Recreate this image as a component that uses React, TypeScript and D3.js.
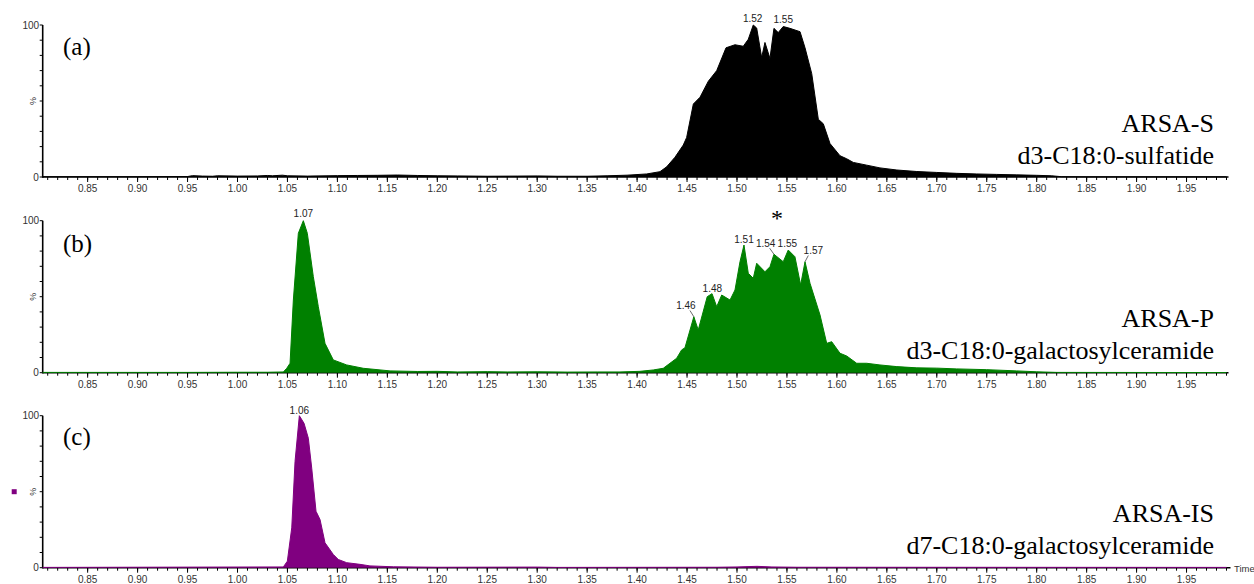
import React from "react";
import * as d3 from "d3";

// ---------- data (retention time in min, relative intensity %) ----------
const SERIES_A: [number, number][] = [
  [0.805, 0.2], [0.9, 0.2], [0.95, 0.3], [0.955, 0.9], [0.965, 0.6], [0.975, 0.5], [0.98, 0.8],
  [1.0, 0.6], [1.02, 0.7], [1.03, 1.0], [1.035, 0.8], [1.045, 1.2], [1.05, 0.8], [1.07, 0.6],
  [1.1, 0.9], [1.12, 1.0], [1.14, 1.1], [1.16, 1.3], [1.18, 1.0], [1.2, 0.8], [1.22, 0.7],
  [1.25, 0.5], [1.28, 0.6], [1.3, 0.7], [1.32, 0.5], [1.35, 0.5], [1.37, 0.8], [1.39, 1.2],
  [1.4096, 2], [1.4229, 3.5], [1.4296, 6.7], [1.4379, 13], [1.4462, 21], [1.4496, 26],
  [1.4563, 48], [1.463, 52.5], [1.4713, 63], [1.4797, 70], [1.489, 85], [1.498, 87],
  [1.5063, 86], [1.5113, 90.6], [1.5163, 100], [1.5197, 98], [1.5247, 78.6], [1.528, 88.5],
  [1.533, 78], [1.537, 97.8], [1.5413, 95], [1.5463, 99], [1.553, 97.8], [1.5631, 95.6],
  [1.5681, 85], [1.5748, 68], [1.5814, 38], [1.5864, 35], [1.5931, 22], [1.6031, 14],
  [1.6098, 12], [1.6164, 9.6], [1.6298, 7.8], [1.6431, 6], [1.66, 4.6], [1.68, 3.6],
  [1.7, 3.0], [1.72, 2.4], [1.74, 2.0], [1.76, 1.7], [1.78, 1.4], [1.8, 1.1], [1.815, 0.8],
  [1.825, 0.2], [1.85, 0.1], [1.99, 0.1],
];

const SERIES_B: [number, number][] = [
  [0.805, 0.2], [0.95, 0.2], [1.0, 0.3], [1.03, 0.3], [1.0459, 0.5], [1.0493, 2.9], [1.0526, 6.2],
  [1.0559, 47.8], [1.0609, 91.7], [1.0659, 100], [1.0699, 91.7], [1.0759, 63.2], [1.0809, 43.4],
  [1.0876, 19.3], [1.0959, 8.4], [1.1093, 5.1], [1.1259, 2.9], [1.1527, 1.2], [1.18, 0.8],
  [1.2, 0.9], [1.22, 0.5], [1.25, 0.7], [1.27, 0.5], [1.3, 0.6], [1.33, 0.4], [1.36, 0.5],
  [1.3829, 0.5], [1.4029, 0.9], [1.4162, 1.8], [1.4262, 2.9], [1.4329, 6.2], [1.4396, 9.5],
  [1.4446, 15], [1.4479, 16.4], [1.4568, 36.8], [1.4612, 28.1], [1.4702, 50], [1.475, 52],
  [1.4797, 43.4], [1.4847, 51.1], [1.493, 47.8], [1.498, 54.4], [1.503, 73], [1.507, 84],
  [1.5113, 65.4], [1.5163, 62.1], [1.5197, 72], [1.528, 66.4], [1.533, 69.7], [1.537, 77.9],
  [1.5463, 73], [1.5513, 80.7], [1.558, 76.3], [1.5637, 57.7], [1.5681, 73], [1.5731, 58.8],
  [1.5831, 38], [1.5898, 19.3], [1.5948, 20.4], [1.6031, 12.8], [1.6098, 11], [1.6198, 6.2],
  [1.6298, 6.2], [1.6431, 5.1], [1.66, 4], [1.68, 3.2], [1.7, 3], [1.72, 2.5], [1.75, 2],
  [1.78, 1.2], [1.8, 0.6], [1.82, 0.2], [1.99, 0.1],
];

const SERIES_C: [number, number][] = [
  [0.805, 0.2], [1.0459, 0.5], [1.0499, 4.3], [1.0543, 26.2], [1.0576, 69.9], [1.0619, 100],
  [1.0666, 95], [1.0709, 85.2], [1.0743, 65.5], [1.0786, 37.1], [1.0826, 31.7], [1.0876, 16.4],
  [1.0959, 8.7], [1.1009, 5.4], [1.1093, 3.3], [1.1226, 2.2], [1.1326, 1.2], [1.156, 0.6],
  [1.2, 0.3], [1.3, 0.4], [1.32, 0.2], [1.48, 0.3], [1.5, 0.5], [1.52, 0.9], [1.535, 0.5],
  [1.56, 0.3], [1.99, 0.2],
];

// peak labels: text, peak (t, v), label anchor (t, v), leader line?
type PeakLabel = { text: string; t: number; v: number; lt: number; lv: number; leader: boolean };
const PEAKS_A: PeakLabel[] = [
  { text: "1.52", t: 1.5163, v: 100, lt: 1.5157, lv: 102.2, leader: false },
  { text: "1.55", t: 1.5463, v: 99, lt: 1.5463, lv: 101.1, leader: false },
];
const PEAKS_B: PeakLabel[] = [
  { text: "1.07", t: 1.0659, v: 100, lt: 1.0659, lv: 102.4, leader: false },
  { text: "1.46", t: 1.4568, v: 36.8, lt: 1.4489, lv: 41.9, leader: true },
  { text: "1.48", t: 1.475, v: 52, lt: 1.4753, lv: 52.9, leader: false },
  { text: "1.51", t: 1.507, v: 84, lt: 1.507, lv: 85.1, leader: false },
  { text: "1.54", t: 1.537, v: 77.9, lt: 1.5287, lv: 82.9, leader: true },
  { text: "1.55", t: 1.5513, v: 80.7, lt: 1.5504, lv: 82.5, leader: false },
  { text: "1.57", t: 1.5681, v: 73, lt: 1.5764, lv: 78.1, leader: true },
];
const PEAKS_C: PeakLabel[] = [
  { text: "1.06", t: 1.0619, v: 100, lt: 1.0619, lv: 101.1, leader: false },
];

const PANEL_TAGS = ["(a)", "(b)", "(c)"];
const ENZYMES = ["ARSA-S", "ARSA-P", "ARSA-IS"];
const ANALYTES = ["d3-C18:0-sulfatide", "d3-C18:0-galactosylceramide", "d7-C18:0-galactosylceramide"];
const COLORS = ["#000000", "#008000", "#800080"];
const SERIES = [SERIES_A, SERIES_B, SERIES_C];
const PEAKS = [PEAKS_A, PEAKS_B, PEAKS_C];

const X_DOMAIN: [number, number] = [0.805, 1.99];
const MAJOR_TICKS = d3.range(17, 40).map((i) => i * 0.05); // 0.85 .. 1.95
const MINOR_TICKS = d3.range(81, 200).map((i) => i / 100); // 0.81 .. 1.99
const Y_TICKS = d3.range(0, 11).map((i) => i * 10);

// ---------- layout ----------
const W = 1254;
const H = 584;
const AXIS_X = 42.7;
const AXIS_END = 1226.5;
const PANEL_TOPS = [25, 220.7, 415.7];
const PANEL_H = 152;
const SANS = "'Liberation Sans', Arial, sans-serif";
const SERIF = "'Liberation Serif', 'Times New Roman', serif";

const x = d3.scaleLinear().domain(X_DOMAIN).range([AXIS_X, AXIS_END]);

function Panel({ i }: { i: number }) {
  const top = PANEL_TOPS[i];
  const y = d3.scaleLinear().domain([0, 100]).range([top + PANEL_H, top]);
  const y0 = y(0);
  const color = COLORS[i];
  const area = d3
    .area<[number, number]>()
    .x((d) => x(d[0]))
    .y0(y0)
    .y1((d) => y(d[1]))
    .curve(d3.curveLinear);
  const line = d3
    .line<[number, number]>()
    .x((d) => x(d[0]))
    .y((d) => y(d[1]))
    .curve(d3.curveLinear);
  const fmt = d3.format(".2f");
  const lineEnd = i === 2 ? AXIS_END + 4 : AXIS_END + 2;
  return (
    <g>
      {/* x axis */}
      <line x1={AXIS_X} x2={lineEnd} y1={y0} y2={y0} stroke="#000" strokeWidth={1.6} />
      {MINOR_TICKS.map((t) => (
        <line key={"m" + t} x1={x(t)} x2={x(t)} y1={y0} y2={y0 + 3} stroke="#000" strokeWidth={1} />
      ))}
      {MAJOR_TICKS.map((t) => (
        <g key={"M" + t}>
          <line x1={x(t)} x2={x(t)} y1={y0} y2={y0 + 5} stroke="#000" strokeWidth={1} />
          <text x={x(t)} y={y0 + 15} fontSize={10} fontFamily={SANS} fill="#333" textAnchor="middle">
            {fmt(t)}
          </text>
        </g>
      ))}
      {/* y axis */}
      <line x1={AXIS_X} x2={AXIS_X} y1={y0 + 0.8} y2={y(100)} stroke="#000" strokeWidth={1.6} />
      {Y_TICKS.map((v) => (
        <line key={"y" + v} x1={AXIS_X - 3} x2={AXIS_X} y1={y(v)} y2={y(v)} stroke="#000" strokeWidth={1} />
      ))}
      <text x={AXIS_X - 3.5} y={y(100) + 3.5} fontSize={10} fontFamily={SANS} fill="#333" textAnchor="end">
        100
      </text>
      <text x={AXIS_X - 4} y={y0 + 3.5} fontSize={10} fontFamily={SANS} fill="#333" textAnchor="end">
        0
      </text>
      <text
        transform={`translate(${AXIS_X - 7},${y(50)}) rotate(-90)`}
        fontSize={9}
        fontFamily={SANS}
        fill="#333"
        textAnchor="middle"
      >
        %
      </text>
      {/* trace */}
      <path d={area(SERIES[i]) || ""} fill={color} />
      <path d={line(SERIES[i]) || ""} fill="none" stroke={color} strokeWidth={1} />
      {/* peak labels */}
      {PEAKS[i].map((p) => {
        const lx = x(p.lt);
        const ly = y(p.lv);
        const px = x(p.t);
        const py = y(p.v);
        return (
          <g key={p.text}>
            {p.leader && (
              <line
                x1={px > lx ? lx + 4 : lx - 5}
                y1={ly + 1.5}
                x2={px}
                y2={py}
                stroke="#444"
                strokeWidth={0.8}
              />
            )}
            <text x={lx} y={ly} fontSize={10} fontFamily={SANS} fill="#222" textAnchor="middle">
              {p.text}
            </text>
          </g>
        );
      })}
      {/* annotations */}
      <text x={63} y={top + 29.5 + (i === 1 ? 1.5 : 0)} fontSize={25} fontFamily={SERIF} fill="#000">
        {PANEL_TAGS[i]}
      </text>
      <text x={1214} y={top + 106.7} fontSize={26} fontFamily={SERIF} fill="#000" textAnchor="end">
        {ENZYMES[i]}
      </text>
      <text x={1214} y={top + 138.5} fontSize={26} fontFamily={SERIF} fill="#000" textAnchor="end">
        {ANALYTES[i]}
      </text>
    </g>
  );
}

export default function App() {
  const topB = PANEL_TOPS[1];
  const topC = PANEL_TOPS[2];
  return (
    <div style={{ position: "absolute", left: 0, top: 0 }}>
      <svg width={W} height={H} style={{ display: "block", background: "#fff" }}>
        <rect x={0} y={0} width={W} height={H} fill="#fff" />
        {[0, 1, 2].map((i) => (
          <Panel key={i} i={i} />
        ))}
        {/* asterisk above ARSA-P cluster */}
        <text x={x(1.54)} y={topB + 5.5} fontSize={24} fontFamily={SERIF} fill="#000" textAnchor="middle">
          *
        </text>
        {/* legend marker of trace (c) */}
        <rect x={11.7} y={topC + 73.5} width={5} height={5} fill="#800080" />
        <text x={1234} y={topC + PANEL_H + 4} fontSize={9.5} fontFamily={SANS} fill="#333">
          Time
        </text>
      </svg>
    </div>
  );
}
